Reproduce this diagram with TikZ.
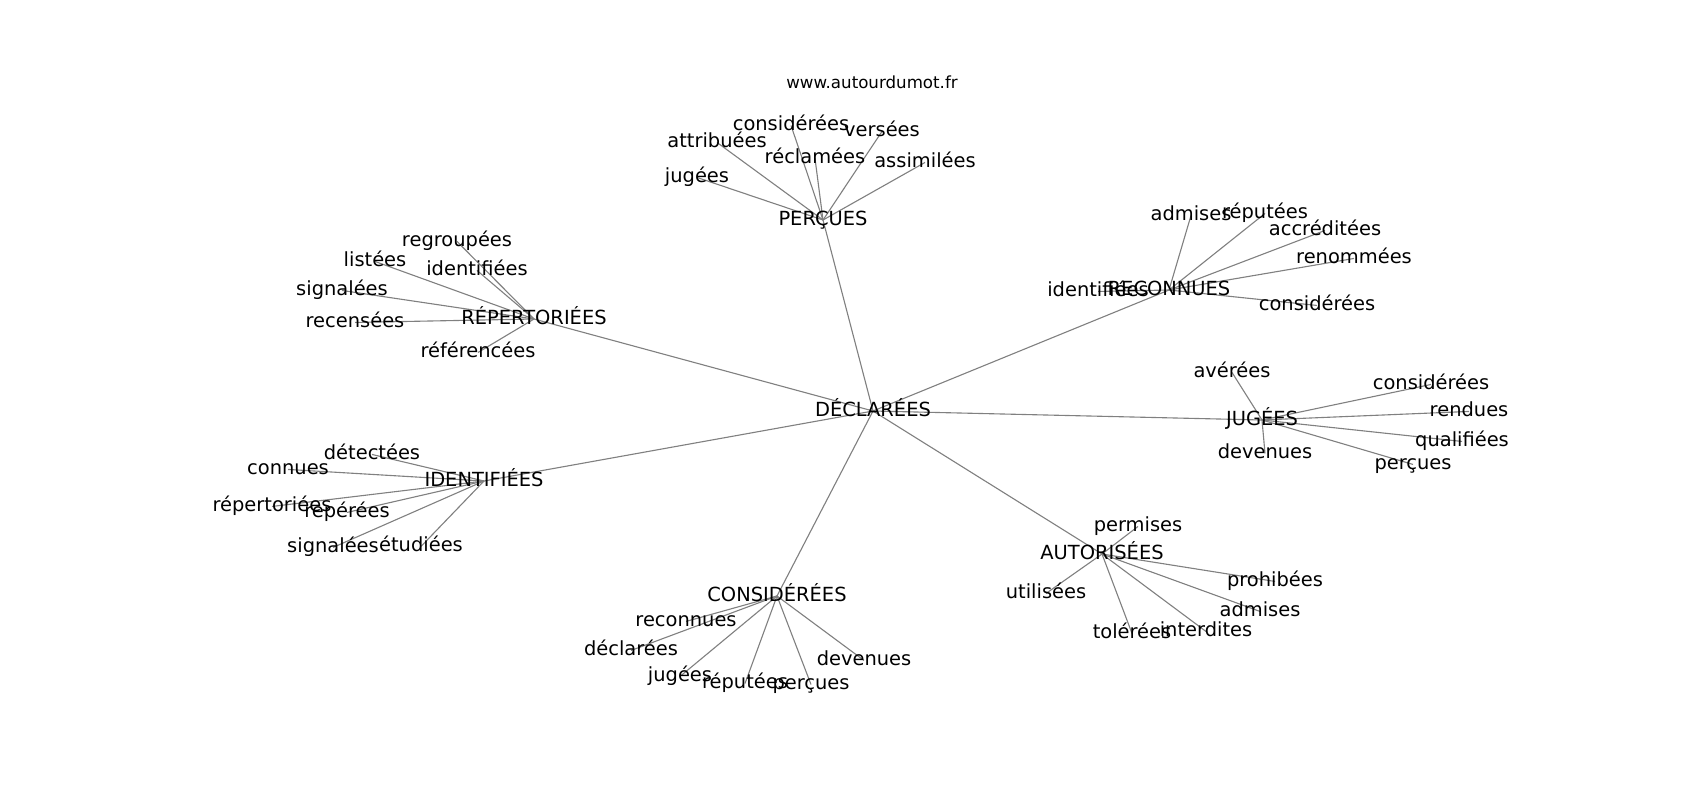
\documentclass[tikz,border=0pt]{standalone}
\usepackage{fontspec}
\setmainfont{DejaVu Sans}
\usetikzlibrary{backgrounds}
\tikzset{
  lab/.style={font=\fontsize{14}{16}\selectfont, inner sep=0pt, text height=10.6pt, text depth=3.4pt},
  leaf/.style={lab, yshift=0.4pt},
  ttl/.style={font=\fontsize{12}{14}\selectfont, inner sep=0pt},
  edge/.style={draw={rgb,255:red,128;green,128;blue,128}, line width=0.8pt}
}
\begin{document}
\begin{tikzpicture}[x=0.72pt,y=-0.72pt]
\useasboundingbox (0,0) rectangle (1700,800);
\node[ttl] (title) at (872,82) {www.autourdumot.fr};
% hubs
\node[lab] (D) at (873,411) {DÉCLARÉES};
\node[lab] (P) at (823,220) {PERÇUES};
\node[lab] (R) at (1169,290) {RECONNUES};
\node[lab] (J) at (1262,420) {JUGÉES};
\node[lab] (A) at (1102,554) {AUTORISÉES};
\node[lab] (C) at (777,596) {CONSIDÉRÉES};
\node[lab] (I) at (484,481) {IDENTIFIÉES};
\node[lab] (E) at (534,319) {RÉPERTORIÉES};
% PERÇUES leaves
\node[leaf] (p1) at (791,126) {considérées};
\node[leaf] (p2) at (882,132) {versées};
\node[leaf] (p3) at (717,143) {attribuées};
\node[leaf] (p4) at (815,159) {réclamées};
\node[leaf] (p5) at (925,163) {assimilées};
\node[leaf] (p6) at (697,178) {jugées};
% RECONNUES leaves
\node[leaf] (r1) at (1191,216) {admises};
\node[leaf] (r2) at (1265,214) {réputées};
\node[leaf] (r3) at (1325,231) {accréditées};
\node[leaf] (r4) at (1354,259) {renommées};
\node[leaf] (r5) at (1098,292) {identifiées};
\node[leaf] (r6) at (1317,306) {considérées};
% JUGÉES leaves
\node[leaf] (j1) at (1232,373) {avérées};
\node[leaf] (j2) at (1431,385) {considérées};
\node[leaf] (j3) at (1469,412) {rendues};
\node[leaf] (j4) at (1462,442) {qualifiées};
\node[leaf] (j5) at (1413,465) {perçues};
\node[leaf] (j6) at (1265,454) {devenues};
% AUTORISÉES leaves
\node[leaf] (a1) at (1138,527) {permises};
\node[leaf] (a2) at (1046,594) {utilisées};
\node[leaf] (a3) at (1275,582) {prohibées};
\node[leaf] (a4) at (1260,612) {admises};
\node[leaf] (a5) at (1206,632) {interdites};
\node[leaf] (a6) at (1132,634) {tolérées};
% CONSIDÉRÉES leaves
\node[leaf] (c1) at (686,622) {reconnues};
\node[leaf] (c2) at (631,651) {déclarées};
\node[leaf] (c3) at (680,677) {jugées};
\node[leaf] (c4) at (745,684) {réputées};
\node[leaf] (c5) at (811,685) {perçues};
\node[leaf] (c6) at (864,661) {devenues};
% IDENTIFIÉES leaves
\node[leaf] (i1) at (372,455) {détectées};
\node[leaf] (i2) at (288,470) {connues};
\node[leaf] (i3) at (272,507) {répertoriées};
\node[leaf] (i4) at (347,513) {repérées};
\node[leaf] (i5) at (333,548) {signalées};
\node[leaf] (i6) at (421,547) {étudiées};
% RÉPERTORIÉES leaves
\node[leaf] (e1) at (457,242) {regroupées};
\node[leaf] (e2) at (375,262) {listées};
\node[leaf] (e3) at (477,271) {identifiées};
\node[leaf] (e4) at (342,291) {signalées};
\node[leaf] (e5) at (355,323) {recensées};
\node[leaf] (e6) at (478,353) {référencées};
\begin{pgfonlayer}{background}
\foreach \h in {P,R,J,A,C,I,E} { \draw[edge] (D.center) -- (\h.center); }
\foreach \l in {p1,p2,p3,p4,p5,p6} { \draw[edge] (P.center) -- (\l.center); }
\foreach \l in {r1,r2,r3,r4,r5,r6} { \draw[edge] (R.center) -- (\l.center); }
\foreach \l in {j1,j2,j3,j4,j5,j6} { \draw[edge] (J.center) -- (\l.center); }
\foreach \l in {a1,a2,a3,a4,a5,a6} { \draw[edge] (A.center) -- (\l.center); }
\foreach \l in {c1,c2,c3,c4,c5,c6} { \draw[edge] (C.center) -- (\l.center); }
\foreach \l in {i1,i2,i3,i4,i5,i6} { \draw[edge] (I.center) -- (\l.center); }
\foreach \l in {e1,e2,e3,e4,e5,e6} { \draw[edge] (E.center) -- (\l.center); }
\end{pgfonlayer}
\end{tikzpicture}
\end{document}
